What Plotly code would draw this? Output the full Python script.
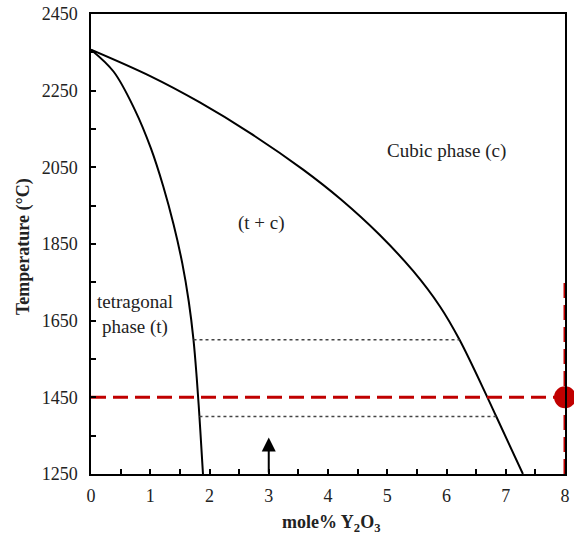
import plotly.graph_objects as go

# Phase boundary t / (t+c)  (mole% Y2O3, temperature °C)
t_boundary_x = [0.0, 0.38, 0.74, 1.01, 1.22, 1.395, 1.54, 1.65, 1.73, 1.785, 1.83, 1.87, 1.89]
t_boundary_T = [2357, 2300, 2200, 2100, 2000, 1900, 1800, 1700, 1600, 1500, 1400, 1300, 1250]

# Phase boundary (t+c) / c
c_boundary_x = [0.0, 1.0, 1.83, 2.68, 3.58, 4.22, 4.87, 5.44, 5.89, 6.22, 6.69, 6.84, 7.29]
c_boundary_T = [2357, 2288, 2220, 2140, 2044, 1966, 1874, 1779, 1687, 1600, 1450, 1400, 1250]

# Tie lines (dotted)
tie_T = [1600, 1400]
tie_x_start = [1.73, 1.83]
tie_x_end = [6.22, 6.84]

# Red marker / guide lines
red_T = 1450
red_x = 8
red_vert_T = [1250, 1750]

# Arrow at 3 mol%
arrow_x = 3
arrow_T = [1250, 1345]

# Labels
labels = ["Cubic phase (c)", "(t + c)", "tetragonal<br>phase (t)"]
label_x = [6.0, 2.87, 0.74]
label_T = [2092, 1905, 1666]

FONT = "Liberation Serif, Times New Roman, serif"
RED = "#C00000"
TXT = "#222222"

fig = go.Figure()

fig.add_trace(go.Scatter(x=t_boundary_x, y=t_boundary_T, mode="lines",
                         line=dict(color="black", width=2, shape="spline", smoothing=1.0),
                         showlegend=False, hoverinfo="skip"))
fig.add_trace(go.Scatter(x=c_boundary_x, y=c_boundary_T, mode="lines",
                         line=dict(color="black", width=2, shape="spline", smoothing=1.0),
                         showlegend=False, hoverinfo="skip"))

for T, xs, xe in zip(tie_T, tie_x_start, tie_x_end):
    fig.add_trace(go.Scatter(x=[xs, xe], y=[T, T], mode="lines",
                             line=dict(color="#444444", width=1.5, dash="dot"),
                             showlegend=False, hoverinfo="skip"))

fig.add_trace(go.Scatter(x=[0, red_x], y=[red_T, red_T], mode="lines",
                         line=dict(color=RED, width=3, dash="15px,7px"),
                         showlegend=False, hoverinfo="skip", cliponaxis=False))
fig.add_trace(go.Scatter(x=[red_x, red_x], y=red_vert_T, mode="lines",
                         line=dict(color=RED, width=3, dash="15px,7px"),
                         showlegend=False, hoverinfo="skip", cliponaxis=False))
fig.add_trace(go.Scatter(x=[red_x], y=[red_T], mode="markers",
                         marker=dict(color=RED, size=22),
                         showlegend=False, hoverinfo="skip", cliponaxis=False))

fig.add_annotation(x=arrow_x, y=arrow_T[1], ax=arrow_x, ay=arrow_T[0],
                   xref="x", yref="y", axref="x", ayref="y",
                   showarrow=True, arrowhead=2, arrowsize=1.4, arrowwidth=2,
                   arrowcolor="black", text="")

for txt, lx, lt in zip(labels, label_x, label_T):
    fig.add_annotation(x=lx, y=lt, text=txt, showarrow=False,
                       font=dict(family=FONT, size=19, color=TXT))

# Axis titles
fig.add_annotation(x=0.5, y=0, xref="paper", yref="paper", xanchor="center", yanchor="middle",
                   xshift=3, yshift=-49, showarrow=False,
                   text="<b>mole% Y<sub>2</sub>O<sub>3</sub></b>",
                   font=dict(family=FONT, size=18, color=TXT))
fig.add_annotation(x=0, y=0.5, xref="paper", yref="paper", xanchor="center", yanchor="middle",
                   xshift=-68, yshift=-3, showarrow=False, textangle=-90,
                   text="<b>Temperature (°C)</b>",
                   font=dict(family=FONT, size=18, color=TXT))

axis_common = dict(showgrid=False, zeroline=False, automargin=False,
                   showline=True, linecolor="black", linewidth=1.5, mirror=True,
                   ticks="inside", ticklen=5, tickwidth=1.5, tickcolor="black")

fig.update_layout(
    width=574, height=536,
    margin=dict(l=91, r=9, t=14, b=62),
    paper_bgcolor="white", plot_bgcolor="white",
    font=dict(family=FONT, size=18, color=TXT),
    xaxis=dict(range=[0, 8], dtick=1, tick0=0, ticklabelstandoff=5,
               minor=dict(dtick=0.5, ticks="inside", ticklen=5, tickwidth=1.5, tickcolor="black"),
               **axis_common),
    yaxis=dict(range=[1250, 2450], dtick=200, tick0=1250, ticklabelstandoff=8,
               minor=dict(dtick=100, tick0=1250, ticks="inside", ticklen=5, tickwidth=1.5, tickcolor="black"),
               **axis_common),
)

fig.write_html("out.html")
